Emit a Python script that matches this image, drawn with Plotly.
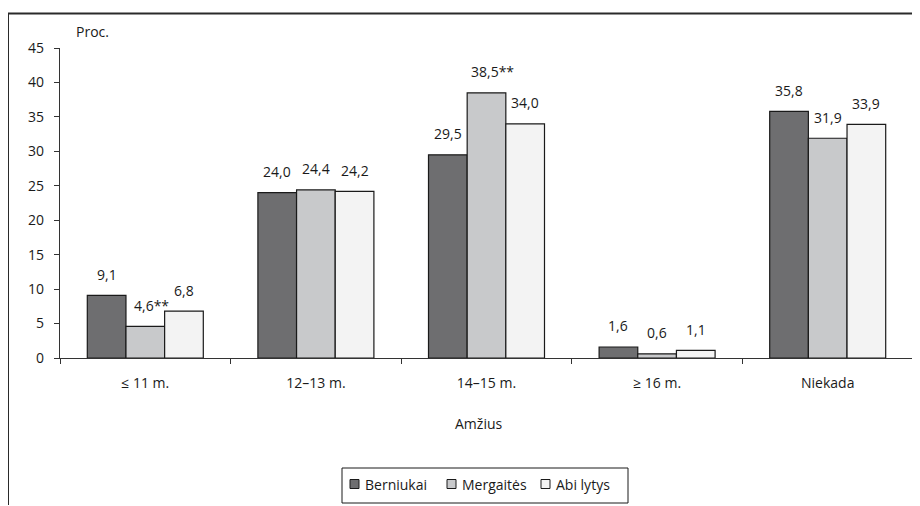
import plotly.graph_objects as go

categories = ["≤ 11 m.", "12–13 m.", "14–15 m.", "≥ 16 m.", "Niekada"]
series_names = ["Berniukai", "Mergaitės", "Abi lytys"]
berniukai = [9.1, 24.0, 29.5, 1.6, 35.8]
mergaites = [4.6, 24.4, 38.5, 0.6, 31.9]
abi_lytys = [6.8, 24.2, 34.0, 1.1, 33.9]
mergaites_marks = ["**", "", "**", "", ""]
y_ticks = [0, 5, 10, 15, 20, 25, 30, 35, 40, 45]

colors = ["#6e6e70", "#c8c9cb", "#f3f3f3"]
FONT = "Open Sans, sans-serif"
FS = 14
TXT = "#1a1a1a"

OFF = 8
L, R, T, B = 60 - OFF, 920 - (913 - OFF), 48 - OFF, 506 - (358 - OFF)
PW, PH = 920 - L - R, 506 - T - B

fx = lambda px: (px - 60) / PW
fy = lambda py: (358 - py) / PH

fig = go.Figure()
all_series = [berniukai, mergaites, abi_lytys]
for name, vals, col in zip(series_names, all_series, colors):
    fig.add_trace(go.Bar(
        x=categories, y=vals, name=name,
        marker=dict(color=col, line=dict(color="#1a1a1a", width=1.2)),
        hoverinfo="skip", showlegend=False,
    ))

def fmt(v):
    return f"{v:.1f}".replace(".", ",")

annotations = []
bar_px = PW / 5 * 0.68 / 3
for si, vals in enumerate(all_series):
    for ci, v in enumerate(vals):
        txt = fmt(v)
        extra = 0
        if si == 1 and mergaites_marks[ci]:
            txt += mergaites_marks[ci]
            extra = 6
        annotations.append(dict(
            x=categories[ci], y=v, xref="x", yref="y", text=txt, showarrow=False,
            xshift=(si - 1) * bar_px + extra, yshift=21, yanchor="middle",
            font=dict(family=FONT, size=FS, color=TXT),
        ))

annotations.append(dict(x=0, y=1, xref="paper", yref="paper", text="Proc.",
                        showarrow=False, xanchor="left", yanchor="middle",
                        xshift=14, yshift=17, font=dict(family=FONT, size=FS, color=TXT)))
annotations.append(dict(x=fx(478), y=0, xref="paper", yref="paper", text="Amžius",
                        showarrow=False, yanchor="middle", yshift=-(423 - 358),
                        font=dict(family=FONT, size=FS, color=TXT)))

shapes = [
    dict(type="line", xref="paper", yref="paper", x0=fx(8), x1=fx(919), y0=fy(13.5), y1=fy(13.5),
         line=dict(color="#2a2a2a", width=2)),
    dict(type="line", xref="paper", yref="paper", x0=fx(8), x1=fx(8), y0=fy(13), y1=fy(505),
         line=dict(color="#2a2a2a", width=2)),
    dict(type="rect", xref="paper", yref="paper", x0=fx(342), x1=fx(628), y0=fy(468), y1=fy(503),
         line=dict(color="#1a1a1a", width=1), fillcolor="white"),
]
leg_sym_x = [350, 447, 541]
for name, col, sx in zip(series_names, colors, leg_sym_x):
    shapes.append(dict(type="rect", xref="paper", yref="paper", x0=fx(sx), x1=fx(sx + 9),
                       y0=fy(479.5), y1=fy(488.5), line=dict(color="#1a1a1a", width=1),
                       fillcolor=col))
    annotations.append(dict(x=fx(sx + 13), y=fy(484), xref="paper", yref="paper", text=name,
                            showarrow=False, xanchor="left", yanchor="middle",
                            font=dict(family=FONT, size=FS, color=TXT)))

fig.update_layout(
    width=920, height=506,
    margin=dict(l=L, r=R, t=T, b=B),
    paper_bgcolor="white", plot_bgcolor="white",
    barmode="group", bargap=0.32, bargroupgap=0,
    font=dict(family=FONT, size=FS, color=TXT),
    annotations=annotations,
    showlegend=False,
    shapes=shapes,
)
fig.update_xaxes(
    showline=True, linecolor="#333333", linewidth=1.2,
    ticks="outside", tickson="boundaries", ticklen=5, tickcolor="#333333",
    ticklabelstandoff=12, showgrid=False,
    tickfont=dict(family=FONT, size=FS, color=TXT),
)
fig.update_yaxes(
    range=[0, 45], tickvals=y_ticks, showline=True, linecolor="#333333", linewidth=1.2,
    ticks="outside", ticklen=5, tickcolor="#333333", showgrid=False, zeroline=False,
    ticklabelstandoff=7,
    tickfont=dict(family=FONT, size=FS, color=TXT),
)

fig.write_html("out.html")
